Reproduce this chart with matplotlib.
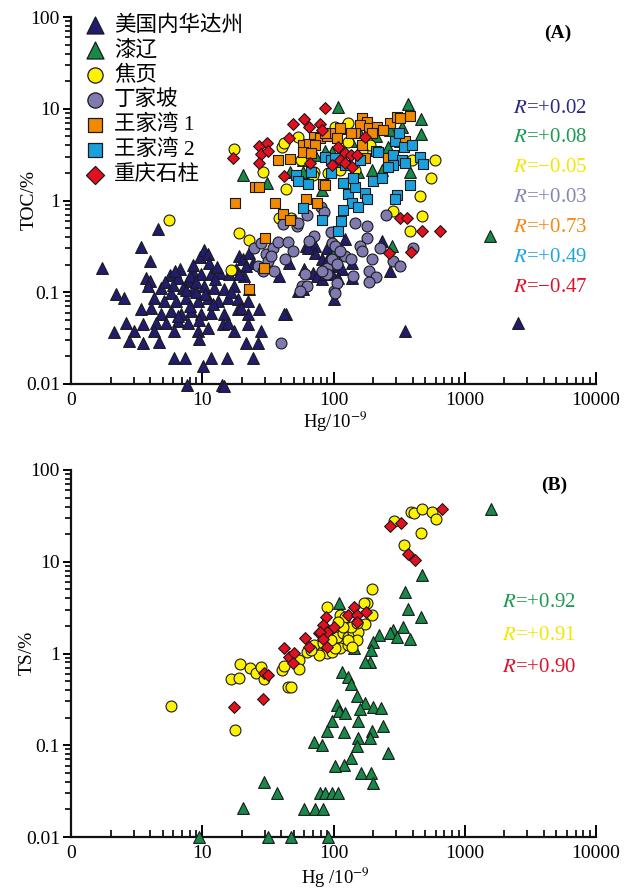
import matplotlib
matplotlib.use("Agg")
import matplotlib.pyplot as plt
from matplotlib.ticker import LogLocator, FixedLocator, NullFormatter

plt.rcParams['font.family'] = ['Liberation Serif', 'Noto Sans CJK SC']
plt.rcParams['mathtext.fontset'] = 'stix'

# ---------------- Panel A data: Hg (1e-9) vs TOC (%) ----------------
nevada_hg = [4.59, 3.41, 3.99, 1.72, 9.57, 3.72, 3.99, 3.85, 5.66, 6.74, 6.51, 7.76, 8.62, 2.2, 2.53,
             4.83, 5.76, 7.11, 8.62, 4.28, 5.09, 6.29, 7.49, 9.24, 3.41, 4.06, 4.83, 5.76, 6.86, 8.18,
             2.62, 3.53, 4.43, 5.28, 6.51, 7.76, 9.24, 2.12, 3.01, 4.28, 6.07, 2.76, 3.53, 4.67, 9.4,
             6.07, 7.36, 7.62, 10.3, 11.0, 11.2, 9.74, 11.6, 13.6, 10.3, 12.2, 14.6, 17.4,
             11.0, 13.1, 15.6, 18.6, 22.2, 9.74, 11.6, 14.6, 18.6, 22.2, 26.9,
             11.0, 14.3, 17.4, 22.2, 27.8, 43.2, 21.4, 26.4, 11.6, 15.4, 24.2, 10.1, 14.1, 14.6,
             19.0, 20.3, 22.6, 24.2, 21.4, 18.0, 20.7, 19.0, 45.5, 38.2, 61.3, 66.8, 72.9, 72.9, 82.4, 90,
             59.1, 69.2, 75.5, 82.4, 90, 53.2, 58.1, 22.6, 19.6, 15.6, 41.7,
             91.6, 100, 109, 117, 98, 109, 139, 139, 123, 236, 271, 100, 353, 2550, 63.4, 86.9,
             8.0, 9.0, 6.0, 7.5, 5.2, 6.2, 12.5, 13.0, 8.5, 9.0, 10.5, 16.0, 16.5, 12.0, 8.0, 6.5, 9.5]
nevada_toc = [0.49, 0.31, 0.22, 0.185, 0.24, 0.144, 0.134, 0.118, 0.155, 0.18, 0.144, 0.134, 0.159, 0.096, 0.087,
              0.112, 0.099, 0.112, 0.112, 0.087, 0.081, 0.081, 0.087, 0.081, 0.066, 0.068, 0.058, 0.063, 0.058, 0.063,
              0.046, 0.045, 0.046, 0.046, 0.049, 0.046, 0.038, 0.037, 0.038, 0.038, 0.038, 0.0295, 0.028, 0.0288, 0.031,
              0.0192, 0.0192, 0.0097, 0.29, 0.264, 0.21, 0.159, 0.159, 0.163, 0.118, 0.112, 0.109, 0.118,
              0.087, 0.081, 0.087, 0.085, 0.081, 0.058, 0.060, 0.058, 0.066, 0.058, 0.066,
              0.041, 0.045, 0.038, 0.045, 0.038, 0.058, 0.028, 0.028, 0.0192, 0.0192, 0.0192, 0.0157, 0.0097, 0.0095,
              0.25, 0.232, 0.27, 0.21, 0.195, 0.181, 0.151, 0.159, 0.21, 0.151, 0.32, 0.30, 0.32, 0.27, 0.232, 0.30,
              0.181, 0.163, 0.151, 0.141, 0.163, 0.104, 0.109, 0.109, 0.068, 0.046, 0.058,
              0.238, 0.27, 0.195, 0.181, 0.159, 0.144, 0.21, 0.144, 0.384, 0.365, 0.172, 0.085, 0.038, 0.046, 0.30, 0.159,
              0.15, 0.13, 0.12, 0.105, 0.13, 0.17, 0.14, 0.19, 0.2, 0.10, 0.095, 0.16, 0.10, 0.075, 0.07, 0.055, 0.05]

qiliao_hg = [20.3, 30.9, 46.3, 58.1, 82.4, 86.9, 58.1, 109, 372, 467, 467, 258, 323, 198, 236, 385,
             117, 155, 271, 335, 155, 98, 209, 1563, 281, 100, 72.9, 135]
qiliao_toc = [1.88, 1.57, 2.02, 2.02, 1.29, 3.5, 2.74, 10.4, 11.2, 7.7, 5.3, 3.8, 4.5, 2.13, 2.13, 2.02,
              6.1, 5.8, 5.8, 6.3, 2.02, 3.35, 5.1, 0.41, 0.32, 0.27, 3.1, 4.5]

jiaoye_hg = [17.4, 40.2, 53.2, 28.8, 43.2, 41.7, 70.5, 69.2, 38.2, 47.1, 103.5, 130, 191, 128, 399, 597,
             556, 459, 475, 286, 91.6, 130, 385, 5.56, 16.5, 19.0, 22.6, 147, 56.1, 166, 113]
jiaoye_toc = [3.6, 3.8, 4.9, 2.02, 1.35, 4.2, 2.02, 1.88, 0.64, 0.64, 6.3, 6.95, 4.0, 4.3, 2.74, 2.74,
              1.78, 1.13, 0.67, 0.76, 1.97, 1.57, 0.47, 0.62, 0.176, 0.44, 0.375, 2.13, 2.74, 3.5, 2.13]

dingjiapo_hg = [39.5, 40.9, 53, 63, 24.6, 27.8, 30.4, 34.4, 37.5, 44.7, 26.4, 31.5, 35, 33.2, 61, 58, 63,
                70.5, 64.6, 90, 90, 98, 95, 98, 100, 80, 84, 54, 147, 181, 181, 160, 166, 123, 135, 107,
                107, 103, 142, 185, 209, 185, 198, 228, 286, 323, 406, 249, 103, 113, 56, 82, 49, 43, 29]
dingjiapo_toc = [0.028, 0.55, 0.53, 0.69, 0.30, 0.34, 0.264, 0.30, 0.35, 0.35, 0.195, 0.22, 0.17, 0.25, 0.16,
                 0.118, 0.118, 0.41, 0.365, 0.185, 0.16, 0.23, 0.45, 0.34, 0.104, 0.84, 0.74, 0.575, 0.575,
                 0.53, 0.39, 0.32, 0.284, 0.25, 0.23, 0.205, 0.127, 0.099, 0.151, 0.172, 0.148, 0.13, 0.23,
                 0.306, 0.22, 0.195, 0.306, 0.69, 0.32, 0.284, 0.104, 0.172, 0.284, 0.232, 0.172]

wjw1_hg = [70.5, 79.6, 90, 98, 58.1, 64.6, 72.9, 58.1, 66.8, 37.5, 46.3, 17.7, 35.6, 61.3, 75.5, 83.9,
           40.9, 25.1, 26.9, 86.9, 166, 181, 160, 185, 216, 271, 307, 323, 385, 147, 135, 113, 107, 166,
           175, 258, 353, 86.9, 29.9, 46.3, 22.6, 29.4, 198, 240]
wjw1_toc = [4.9, 4.8, 5.1, 5.4, 4.0, 4.1, 4.0, 3.35, 3.27, 2.74, 2.8, 0.95, 0.93, 1.05, 0.95, 1.53,
            0.72, 1.42, 1.42, 5.5, 7.9, 7.1, 6.6, 6.1, 6.3, 6.95, 8.1, 7.9, 8.3, 5.4, 5.5, 6.1, 4.8, 4.0,
            2.88, 2.88, 4.5, 1.46, 0.39, 0.62, 0.109, 0.185, 5.5, 5.8]

wjw2_hg = [51.4, 53.2, 63.4, 66.8, 86.9, 94.9, 58.1, 82.4, 94.9, 296, 318, 347, 209, 220, 286, 335, 353,
           459, 484, 286, 262, 201, 236, 385, 175, 181, 130, 147, 142, 119, 109, 103.5, 307, 296, 139,
           155, 119, 109, 115, 399, 123, 160]
wjw2_toc = [1.88, 1.65, 1.53, 2.02, 2.95, 2.74, 0.82, 0.62, 1.97, 4.5, 5.4, 3.8, 3.5, 3.35, 3.1, 2.74, 2.54,
            3.0, 2.47, 2.41, 2.3, 1.65, 1.74, 1.46, 1.22, 1.05, 1.19, 1.39, 1.74, 1.57, 2.6, 2.88, 1.16, 1.03, 0.93,
            0.84, 0.78, 0.47, 0.60, 4.0, 2.41, 2.74]

shizhu_hg = [85.4, 59.1, 64.6, 48.8, 78.3, 81.1, 26.9, 30.9, 27.8, 31.5, 17.1, 26.9, 41.7, 45.5, 65.7,
             175, 109, 123, 135, 152, 113, 123, 139, 98, 323, 365, 475, 651, 267, 392]
shizhu_toc = [10.1, 7.7, 6.3, 6.8, 6.8, 5.8, 3.9, 4.2, 3.18, 3.5, 2.88, 2.54, 1.83, 4.8, 2.54,
              4.9, 3.8, 3.27, 3.1, 3.1, 2.74, 2.54, 2.3, 2.41, 0.65, 0.65, 0.47, 0.47, 0.27, 0.277]

# ---------------- Panel B data: Hg (1e-9) vs TS (%) ----------------
qiliao_b_hg = [1591, 475, 353, 372, 467, 385, 341, 286, 271, 307, 224, 201, 194, 191, 175, 144, 111, 117,
               130, 135, 152, 175, 160, 201, 232, 107, 111, 123, 98, 90, 121, 155, 198, 240, 191, 155, 150,
               70.5, 82.4, 137, 121, 103.5, 163, 194, 201, 258, 79.6, 86.9, 98, 109, 59.1, 72.9, 83.9,
               91.6, 47.1, 9.4, 20.3, 29.4, 36.9, 31.5]
qiliao_b_ts = [38, 7.2, 4.68, 3.05, 2.50, 1.44, 1.95, 1.80, 1.67, 1.51, 1.59, 1.33, 1.09, 0.81, 0.81, 1.15, 3.55, 0.63,
               0.55, 0.47, 0.34, 0.29, 0.248, 0.26, 0.255, 0.275, 0.236, 0.225, 0.184, 0.143, 0.139, 0.184, 0.143,
               0.162, 0.12, 0.12, 0.098, 0.108, 0.101, 0.073, 0.061, 0.059, 0.05, 0.05, 0.039, 0.082, 0.030,
               0.030, 0.030, 0.030, 0.0202, 0.0202, 0.0202, 0.01, 0.01, 0.01, 0.0207, 0.04, 0.030, 0.01]

jiaoye_b_hg = [5.76, 16.5, 19.0, 17.7, 19.3, 23.0, 25.5, 27.8, 29.4, 40.2, 41.7, 44.7, 47.1, 54.2, 54.2,
               62.3, 70.5, 198, 181, 172, 198, 175, 90, 113, 123, 82.4, 90, 98, 83.9, 100, 113, 91.6, 107,
               119, 130, 142, 155, 135, 119, 109, 152, 90, 98, 113, 128, 152, 130, 139, 103.5, 94.9,
               291, 392, 413, 475, 566, 607, 467, 347, 77, 67]
jiaoye_b_ts = [0.27, 0.53, 0.54, 0.147, 0.77, 0.69, 0.61, 0.71, 0.53, 0.66, 0.73, 0.43, 0.43, 0.85, 0.68,
               1.04, 1.24, 5.05, 3.55, 3.55, 2.63, 2.10, 3.21, 2.63, 2.50, 1.04, 1.09, 1.15, 1.30, 1.30, 1.33, 1.51, 1.51,
               1.67, 1.51, 1.71, 1.71, 1.95, 1.95, 2.20, 2.15, 1.01, 1.04, 1.15, 1.24, 1.40, 1.40, 1.18, 1.15, 1.40,
               27.8, 34.8, 34.0, 37.6, 34.8, 29.2, 20.6, 15.2, 0.96, 1.09]

shizhu_b_hg = [17.4, 28.8, 29.4, 31.5, 41.7, 45.5, 49.6, 48.8, 60.2, 64.6, 76.9, 88.4, 83.9, 90, 78.3,
               83.9, 100, 90, 128, 144, 152, 178, 152, 271, 329, 372, 420, 675]
shizhu_b_ts = [0.26, 0.32, 0.61, 0.58, 1.15, 0.92, 1.01, 0.79, 1.48, 1.18, 1.67, 2.50, 2.05, 1.71, 1.71,
               1.44, 1.95, 1.18, 2.63, 3.21, 2.63, 2.83, 2.20, 24.5, 26.4, 12.1, 10.4, 37.6]

# ---------------- labels ----------------
legend_labels = ['美国内华达州', '漆辽', '焦页', '丁家坡', '王家湾 1', '王家湾 2', '重庆石柱']
r_values_a = ['+0.02', '+0.08', '−0.05', '+0.03', '+0.73', '+0.49', '−0.47']
r_values_b = ['+0.92', '+0.91', '+0.90']
x_ticks = [1, 10, 100, 1000, 10000]
x_ticklabels = ['0', '10', '100', '1000', '10000']
y_ticks = [0.01, 0.1, 1, 10, 100]
y_ticklabels = ['0.01', '0.1', '1', '10', '100']

# styles
C_NAVY = '#221c6e'
C_GREEN = '#178a48'
C_YELLOW = '#fff200'
C_PURPLE = '#7f7bb0'
C_ORANGE = '#f28a00'
C_BLUE = '#1ba0dd'
C_RED = '#e3101f'
EDGE = '#1a1a1a'

styles = [
    dict(marker='^', c=C_NAVY, s=72),
    dict(marker='^', c=C_GREEN, s=72),
    dict(marker='o', c=C_YELLOW, s=62),
    dict(marker='o', c=C_PURPLE, s=62),
    dict(marker='s', c=C_ORANGE, s=52),
    dict(marker='s', c=C_BLUE, s=52),
    dict(marker='D', c=C_RED, s=36),
]
legend_sizes = [150, 150, 120, 120, 105, 105, 85]
r_colors_a = ['#2b2a80', '#1c9a52', '#f3e600', '#8585b5', '#f08a10', '#1ea5e0', '#e0102a']
r_colors_b = ['#1c9a52', '#f3e600', '#e0102a']

W, H = 636, 892
fig = plt.figure(figsize=(W / 100, H / 100), dpi=100)
axA = fig.add_axes([71 / W, (H - 384) / H, 525 / W, 367 / H])
axB = fig.add_axes([71 / W, (H - 837) / H, 525 / W, 367 / H])


def style_axis(ax):
    ax.set_xscale('log')
    ax.set_yscale('log')
    ax.set_xlim(1, 10000)
    ax.set_ylim(0.01, 100)
    for sp in ['top', 'right']:
        ax.spines[sp].set_visible(False)
    for sp in ['left', 'bottom']:
        ax.spines[sp].set_linewidth(1.6)
        ax.spines[sp].set_color('#111111')
    ax.xaxis.set_major_locator(FixedLocator(x_ticks))
    ax.set_xticklabels(x_ticklabels)
    ax.yaxis.set_major_locator(FixedLocator(y_ticks))
    ax.set_yticklabels(y_ticklabels)
    ax.xaxis.set_minor_locator(LogLocator(base=10, subs=range(2, 10), numticks=20))
    ax.yaxis.set_minor_locator(LogLocator(base=10, subs=range(2, 10), numticks=20))
    ax.xaxis.set_minor_formatter(NullFormatter())
    ax.yaxis.set_minor_formatter(NullFormatter())
    ax.tick_params(axis='x', which='major', direction='in', length=9, width=1.4, pad=6, labelsize=14)
    ax.tick_params(axis='x', which='minor', direction='in', length=5, width=1.2)
    ax.tick_params(axis='y', which='major', direction='out', length=6, width=1.4, pad=2, labelsize=14)
    ax.tick_params(axis='y', which='minor', direction='out', length=4, width=1.2)


style_axis(axA)
style_axis(axB)

seriesA = [(nevada_hg, nevada_toc), (qiliao_hg, qiliao_toc), (jiaoye_hg, jiaoye_toc),
           (dingjiapo_hg, dingjiapo_toc), (wjw1_hg, wjw1_toc), (wjw2_hg, wjw2_toc),
           (shizhu_hg, shizhu_toc)]
for (xs, ys), st in zip(seriesA, styles):
    axA.scatter(xs, ys, marker=st['marker'], s=st['s'], c=st['c'], edgecolors=EDGE,
                linewidths=0.8, clip_on=False, zorder=3)

# manual legend (panel A)
for i, (lab, st) in enumerate(zip(legend_labels, styles)):
    yy = 0.978 - i * 0.0681
    axA.scatter([0.046], [yy], transform=axA.transAxes, marker=st['marker'],
                s=legend_sizes[i], c=st['c'], edgecolors=EDGE, linewidths=0.9, clip_on=False, zorder=4)
    axA.text(0.082, yy, lab, transform=axA.transAxes, fontsize=15.5, va='center', ha='left',
             family=['Liberation Serif', 'Noto Sans CJK SC'])

for i, (rv, col) in enumerate(zip(r_values_a, r_colors_a)):
    axA.text(0.842, 0.752 - i * 0.0817, r'$\mathit{R}$=' + rv, transform=axA.transAxes,
             fontsize=15, color=col, va='center', ha='left')

axA.text(0.928, 0.956, '(A)', transform=axA.transAxes, fontsize=14, fontweight='bold',
         ha='center', va='center')

seriesB = [(qiliao_b_hg, qiliao_b_ts, styles[1]), (jiaoye_b_hg, jiaoye_b_ts, styles[2]),
           (shizhu_b_hg, shizhu_b_ts, styles[6])]
for xs, ys, st in seriesB:
    axB.scatter(xs, ys, marker=st['marker'], s=st['s'], c=st['c'], edgecolors=EDGE,
                linewidths=0.8, clip_on=False, zorder=3)

for i, (rv, col) in enumerate(zip(r_values_b, r_colors_b)):
    axB.text(0.821, 0.638 - i * 0.0885, r'$\mathit{R}$=' + rv, transform=axB.transAxes,
             fontsize=15, color=col, va='center', ha='left')

axB.text(0.92, 0.959, '(B)', transform=axB.transAxes, fontsize=14, fontweight='bold',
         ha='center', va='center')

# axis labels
fig.text(29 / W, 1 - 200 / H, 'TOC/%', rotation=90, fontsize=14, ha='center', va='center')
fig.text(27 / W, 1 - 653 / H, 'TS/%', rotation=90, fontsize=14, ha='center', va='center')
fig.text(335 / W, 1 - 422 / H, r'Hg/10$^{-9}$', fontsize=13.5, ha='center', va='center')
fig.text(335 / W, 1 - 878 / H, r'Hg /10$^{-9}$', fontsize=13.5, ha='center', va='center')

fig.savefig('out.png', dpi=100)
